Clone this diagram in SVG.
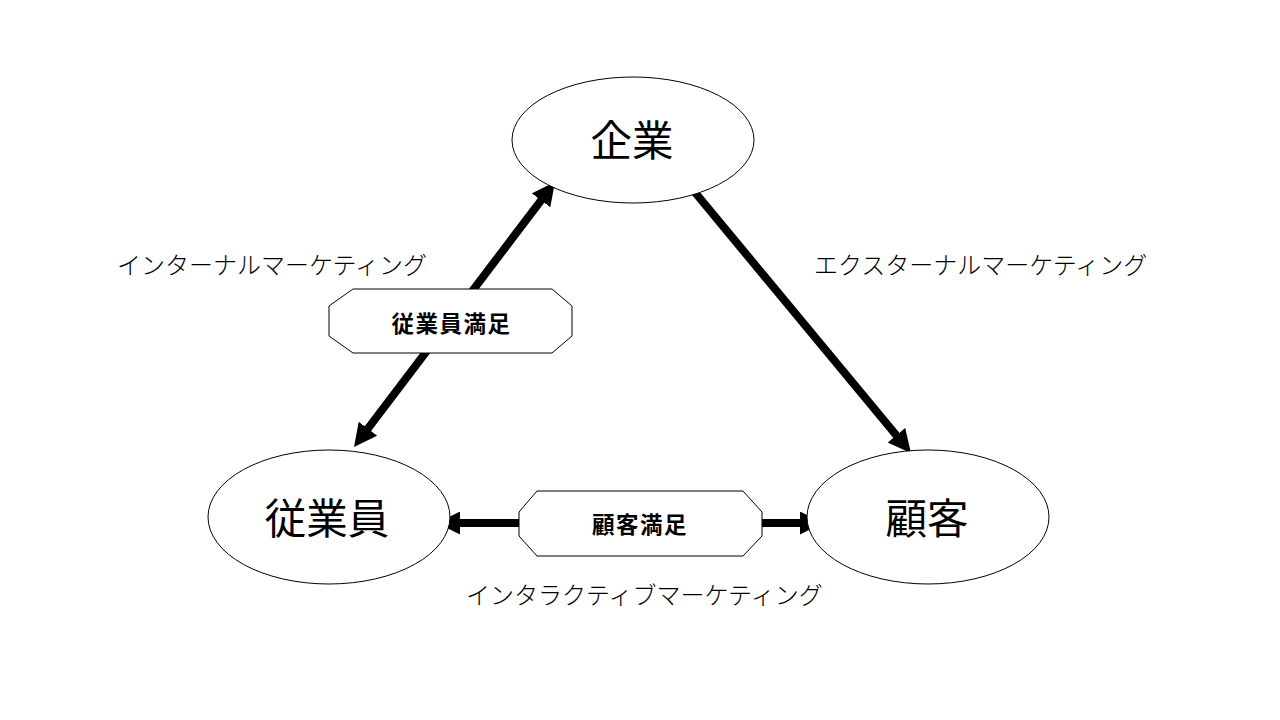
<svg xmlns="http://www.w3.org/2000/svg" width="1280" height="720" viewBox="0 0 1280 720">
  <style>
    .node ellipse { fill: #ffffff; stroke: #000000; stroke-width: 1; }
    .big { font-family: "Noto Sans CJK JP", "Noto Sans", sans-serif; font-size: 41.5px; fill: #000; text-anchor: middle; dominant-baseline: central; }
    .lab { font-family: "Noto Sans CJK JP", "Noto Sans", sans-serif; font-size: 24px; font-weight: 300; fill: #000; dominant-baseline: central; }
    .oct polygon { fill: #ffffff; stroke: #000000; stroke-width: 1; }
    .oct text { font-family: "Noto Sans CJK JP", "Noto Sans", sans-serif; font-size: 22.5px; font-weight: bold; letter-spacing: 1.5px; fill: #000; text-anchor: middle; dominant-baseline: central; }
    .conn line { stroke: #000000; stroke-width: 8; fill: none; }
  </style>
  <defs>
    <marker id="ah" markerUnits="userSpaceOnUse" markerWidth="23" markerHeight="23" refX="11" refY="11.5" orient="auto-start-reverse" viewBox="0 0 23 23">
      <path d="M0,0 L23,11.5 L0,23 z" fill="#000000"/>
    </marker>
  </defs>
  <rect x="0" y="0" width="1280" height="720" fill="#ffffff"/>

  <g id="connectors" class="conn">
    <line id="c-internal" x1="361.25" y1="437.44" x2="547.75" y2="191.56" marker-start="url(#ah)" marker-end="url(#ah)"/>
    <line id="c-external" x1="693" y1="190" x2="903.34" y2="443.76" marker-end="url(#ah)"/>
    <line id="c-interactive" x1="449" y1="523" x2="811" y2="523" marker-start="url(#ah)" marker-end="url(#ah)"/>
  </g>

  <g id="node-kigyou" class="node">
    <ellipse cx="633" cy="140" rx="121" ry="63"/>
    <text class="big" x="632" y="138">企業</text>
  </g>
  <g id="node-juugyouin" class="node">
    <ellipse cx="329" cy="517" rx="121" ry="67"/>
    <text class="big" x="327" y="516">従業員</text>
  </g>
  <g id="node-kokyaku" class="node">
    <ellipse cx="928" cy="517" rx="121" ry="67"/>
    <text class="big" x="927" y="516">顧客</text>
  </g>

  <g id="badge-employee-satisfaction" class="oct">
    <polygon points="353,289 552,289 572,306 572,336 552,353 353,353 329,336 329,306"/>
    <text x="451.5" y="322">従業員満足</text>
  </g>
  <g id="badge-customer-satisfaction" class="oct">
    <polygon points="537,491 743,491 762,512 762,536 743,556 537,556 519,536 519,512"/>
    <text x="640" y="523">顧客満足</text>
  </g>

  <g id="label-internal">
    <text class="lab" x="117" y="263">インターナルマーケティング</text>
  </g>
  <g id="label-external">
    <text class="lab" x="814" y="263">エクスターナルマーケティング</text>
  </g>
  <g id="label-interactive">
    <text class="lab" x="466" y="593">インタラクティブマーケティング</text>
  </g>
</svg>
